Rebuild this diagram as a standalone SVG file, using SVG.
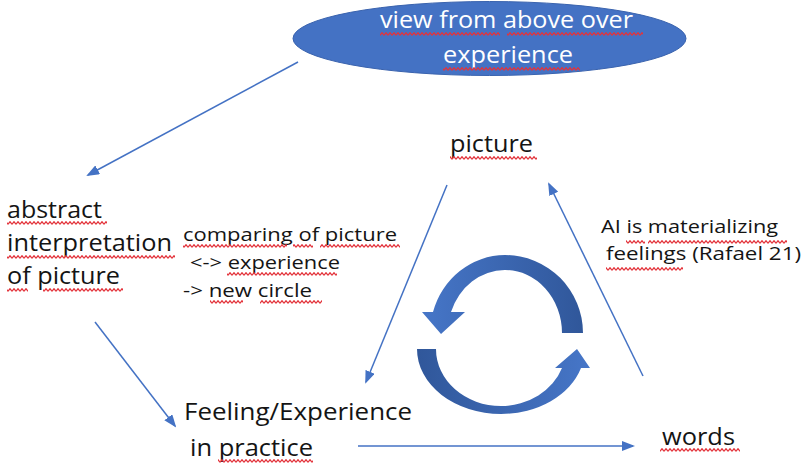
<svg xmlns="http://www.w3.org/2000/svg" width="803" height="465" viewBox="0 0 803 465">
  <style>
    .lbl { font-family: "Open Sans", "Liberation Sans", sans-serif; fill: #141414; }
    .big { font-size: 23px; }
    .small { font-size: 19px; }
    .head { font-family: "Open Sans", "Liberation Sans", sans-serif; font-size: 23px; fill: #ffffff; }
    .conn { stroke: #4472C4; stroke-width: 1.5; fill: none; marker-end: url(#arrow); }
    .spell { fill: url(#wave); }
  </style>
  <defs>
    <marker id="arrow" markerUnits="userSpaceOnUse" markerWidth="13" markerHeight="10" refX="11" refY="5" orient="auto">
      <path d="M0 0 L13 5 L0 10 Z" fill="#4472C4"/>
    </marker>
    <!-- red wavy underline used below misspelled words -->
    <pattern id="wave" width="4" height="4" patternUnits="userSpaceOnUse">
      <path d="M0 3.3 L2 0.7 L4 3.3" fill="none" stroke="#E3323A" stroke-width="1.2"/>
    </pattern>
    <linearGradient id="gTop" x1="0" y1="0" x2="1" y2="0">
      <stop offset="0" stop-color="#4676C8"/>
      <stop offset="1" stop-color="#30579A"/>
    </linearGradient>
    <linearGradient id="gBottom" x1="0" y1="0" x2="1" y2="0">
      <stop offset="0" stop-color="#30579A"/>
      <stop offset="1" stop-color="#4676C8"/>
    </linearGradient>
  </defs>

  <!-- connectors -->
  <g id="connectors">
    <line class="conn" x1="298" y1="62" x2="88" y2="175"/>
    <line class="conn" x1="95" y1="322" x2="175" y2="426"/>
    <line class="conn" x1="447" y1="185" x2="366" y2="382"/>
    <line class="conn" x1="643" y1="376" x2="549" y2="184"/>
    <line class="conn" x1="358" y1="446" x2="633" y2="446"/>
  </g>

  <!-- top ellipse -->
  <g id="view-from-above">
    <ellipse cx="489.5" cy="38.5" rx="196.5" ry="37" fill="#4472C4" stroke="#3A63AE" stroke-width="1"/>
    <text class="head" x="380" y="28" textLength="253" lengthAdjust="spacingAndGlyphs">view from above over</text>
    <text class="head" x="443" y="63" textLength="130" lengthAdjust="spacingAndGlyphs">experience</text>
    <rect class="spell" x="380" y="0" width="120" height="4" transform="translate(0,32)"/>
    <rect class="spell" x="507" y="0" width="136" height="4" transform="translate(0,32)"/>
    <rect class="spell" x="443" y="0" width="137" height="4" transform="translate(0,67)"/>
  </g>

  <!-- left node -->
  <g id="abstract-interpretation">
    <text class="lbl big" x="7" y="218" textLength="95" lengthAdjust="spacingAndGlyphs">abstract</text>
    <text class="lbl big" x="7" y="251" textLength="165" lengthAdjust="spacingAndGlyphs">interpretation</text>
    <text class="lbl big" x="7" y="284" textLength="113" lengthAdjust="spacingAndGlyphs">of picture</text>
    <rect class="spell" x="7" y="0" width="100" height="4" transform="translate(0,221)"/>
    <rect class="spell" x="7" y="0" width="168" height="4" transform="translate(0,255)"/>
    <rect class="spell" x="7" y="0" width="21" height="4" transform="translate(0,288)"/>
    <rect class="spell" x="43" y="0" width="80" height="4" transform="translate(0,288)"/>
  </g>

  <!-- note between the left node and the cycle -->
  <g id="comparing-note">
    <text class="lbl small" x="183" y="241" textLength="214" lengthAdjust="spacingAndGlyphs">comparing of picture</text>
    <text class="lbl small" x="190" y="269" textLength="150" lengthAdjust="spacingAndGlyphs">&lt;-&gt; experience</text>
    <text class="lbl small" x="183" y="297" textLength="129" lengthAdjust="spacingAndGlyphs">-&gt; new circle</text>
    <rect class="spell" x="183" y="0" width="104" height="4" transform="translate(0,244)"/>
    <rect class="spell" x="293" y="0" width="20" height="4" transform="translate(0,244)"/>
    <rect class="spell" x="320" y="0" width="80" height="4" transform="translate(0,244)"/>
    <rect class="spell" x="227" y="0" width="110" height="4" transform="translate(0,272)"/>
    <rect class="spell" x="210" y="0" width="33" height="4" transform="translate(0,300)"/>
    <rect class="spell" x="260" y="0" width="62" height="4" transform="translate(0,300)"/>
  </g>

  <!-- top of the triangle -->
  <g id="picture">
    <text class="lbl big" x="450" y="152" textLength="83" lengthAdjust="spacingAndGlyphs">picture</text>
    <rect class="spell" x="450" y="0" width="87" height="4" transform="translate(0,156)"/>
  </g>

  <!-- note on the right edge -->
  <g id="ai-note">
    <text class="lbl small" x="601" y="233" textLength="177" lengthAdjust="spacingAndGlyphs">AI is materializing</text>
    <text class="lbl small" x="606" y="260" textLength="195" lengthAdjust="spacingAndGlyphs">feelings (Rafael 21)</text>
    <rect class="spell" x="626" y="0" width="19" height="4" transform="translate(0,240)"/>
    <rect class="spell" x="648" y="0" width="139" height="4" transform="translate(0,240)"/>
    <rect class="spell" x="606" y="0" width="77" height="4" transform="translate(0,267)"/>
  </g>

  <!-- bottom-left corner -->
  <g id="feeling-experience">
    <text class="lbl big" x="184" y="420" textLength="228" lengthAdjust="spacingAndGlyphs">Feeling/Experience</text>
    <text class="lbl big" x="190" y="456" textLength="123" lengthAdjust="spacingAndGlyphs">in practice</text>
    <rect class="spell" x="218" y="0" width="95" height="4" transform="translate(0,459)"/>
  </g>

  <!-- bottom-right corner -->
  <g id="words">
    <text class="lbl big" x="662" y="445" textLength="73" lengthAdjust="spacingAndGlyphs">words</text>
    <rect class="spell" x="660" y="0" width="80" height="4" transform="translate(0,448)"/>
  </g>

  <!-- circular arrows in the middle -->
  <g id="cycle">
    <path fill="url(#gTop)" d="M583 333 A78 78 0 0 0 505 255 A75 78 0 0 0 433 312 L422 312 L441 334 L465 312 L451 312 A57 63 0 0 1 505 270 A57 63 0 0 1 562 333 Z"/>
    <path fill="url(#gBottom)" d="M417 349 A84 65 0 0 0 501 414 A84 65 0 0 0 581 368 L590 368 L577 349 L555 368 L562 368 A65 57 0 0 1 501 406 A65 57 0 0 1 436 349 Z"/>
  </g>
</svg>
